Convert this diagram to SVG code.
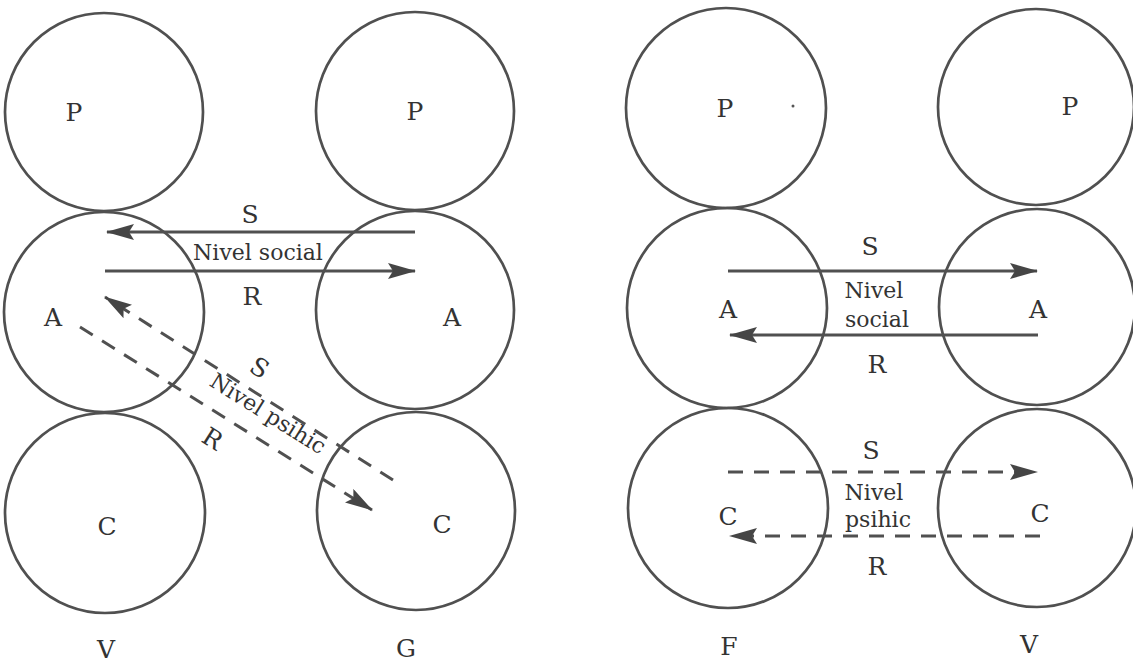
<svg xmlns="http://www.w3.org/2000/svg" width="1133" height="662" viewBox="0 0 1133 662">
<style>
.node circle{fill:none;stroke:#505050;stroke-width:2.7}
text{font-family:"DejaVu Serif","Liberation Serif",serif;fill:#333;text-anchor:middle}
.big{font-size:25px}
.mid{font-size:22px}
.ln{fill:none;stroke:#505050;stroke-width:3}
.dash{stroke-dasharray:15 11}
</style>
<defs>
<marker id="ah" viewBox="0 0 28 16" refX="27" refY="8" markerWidth="28" markerHeight="16" markerUnits="userSpaceOnUse" orient="auto">
<path d="M0,0 L28,8 L0,16 L5,8 Z" fill="#454545" stroke="none"/>
</marker>
</defs>
<rect width="1133" height="662" fill="#fff"/>

<g id="left-V">
<g id="V-P" class="node"><circle cx="104" cy="112" r="99"/><text class="big" x="74" y="121">P</text></g>
<g id="V-A" class="node"><circle cx="104" cy="312" r="100"/><text class="big" x="53" y="326">A</text></g>
<g id="V-C" class="node"><circle cx="105" cy="513" r="100"/><text class="big" x="107" y="535">C</text></g>
<text id="lbl-V1" class="big" x="106" y="658">V</text>
</g>
<g id="left-G">
<g id="G-P" class="node"><circle cx="415" cy="111" r="99"/><text class="big" x="415" y="120">P</text></g>
<g id="G-A" class="node"><circle cx="415" cy="310" r="99"/><text class="big" x="452" y="326">A</text></g>
<g id="G-C" class="node"><circle cx="416" cy="511" r="99"/><text class="big" x="442" y="533">C</text></g>
<text id="lbl-G" class="big" x="406" y="657">G</text>
</g>

<g id="right-F">
<g id="F-P" class="node"><circle cx="726" cy="108" r="100"/><text class="big" x="725" y="117">P</text><circle cx="793" cy="106" r="1.5" style="fill:#555;stroke:none"/></g>
<g id="F-A" class="node"><circle cx="727" cy="308" r="100"/><text class="big" x="728" y="318">A</text></g>
<g id="F-C" class="node"><circle cx="728" cy="508" r="100"/><text class="big" x="728" y="525">C</text></g>
<text id="lbl-F" class="big" x="729" y="655">F</text>
</g>
<g id="right-V">
<g id="V2-P" class="node"><circle cx="1036" cy="107" r="98"/><text class="big" x="1070" y="115">P</text></g>
<g id="V2-A" class="node"><circle cx="1037" cy="307" r="98"/><text class="big" x="1038" y="318">A</text></g>
<g id="V2-C" class="node"><circle cx="1037" cy="508" r="99"/><text class="big" x="1040" y="522">C</text></g>
<text id="lbl-V2" class="big" x="1029" y="653">V</text>
</g>

<g id="connectors">
<line class="ln" x1="415" y1="232" x2="107" y2="232" marker-end="url(#ah)"/>
<line class="ln" x1="105" y1="271" x2="415" y2="271" marker-end="url(#ah)"/>
<line class="ln dash" x1="393" y1="480" x2="105" y2="297" marker-end="url(#ah)"/>
<line class="ln dash" x1="80" y1="327" x2="372" y2="510" marker-end="url(#ah)"/>
<line class="ln" x1="728" y1="271" x2="1037" y2="271" marker-end="url(#ah)"/>
<line class="ln" x1="1038" y1="335" x2="730" y2="335" marker-end="url(#ah)"/>
<line class="ln dash" x1="728" y1="472" x2="1037" y2="472" marker-end="url(#ah)"/>
<line class="ln dash" x1="1040" y1="536" x2="730" y2="536" marker-end="url(#ah)"/>
</g>

<g id="labels">
<text class="big" x="250" y="223">S</text>
<text class="mid" x="258" y="260">Nivel social</text>
<text class="big" x="252" y="305">R</text>
<text class="big" transform="translate(255,375) rotate(32)">S</text>
<text class="mid" transform="translate(264,420) rotate(32)">Nivel psihic</text>
<text class="big" transform="translate(208,446) rotate(32)">R</text>
<text class="big" x="870" y="255">S</text>
<text class="mid" x="874" y="298">Nivel</text>
<text class="mid" x="877" y="327">social</text>
<text class="big" x="877" y="373">R</text>
<text class="big" x="871" y="459">S</text>
<text class="mid" x="874" y="500">Nivel</text>
<text class="mid" x="878" y="527">psihic</text>
<text class="big" x="877" y="575">R</text>
</g>
</svg>
